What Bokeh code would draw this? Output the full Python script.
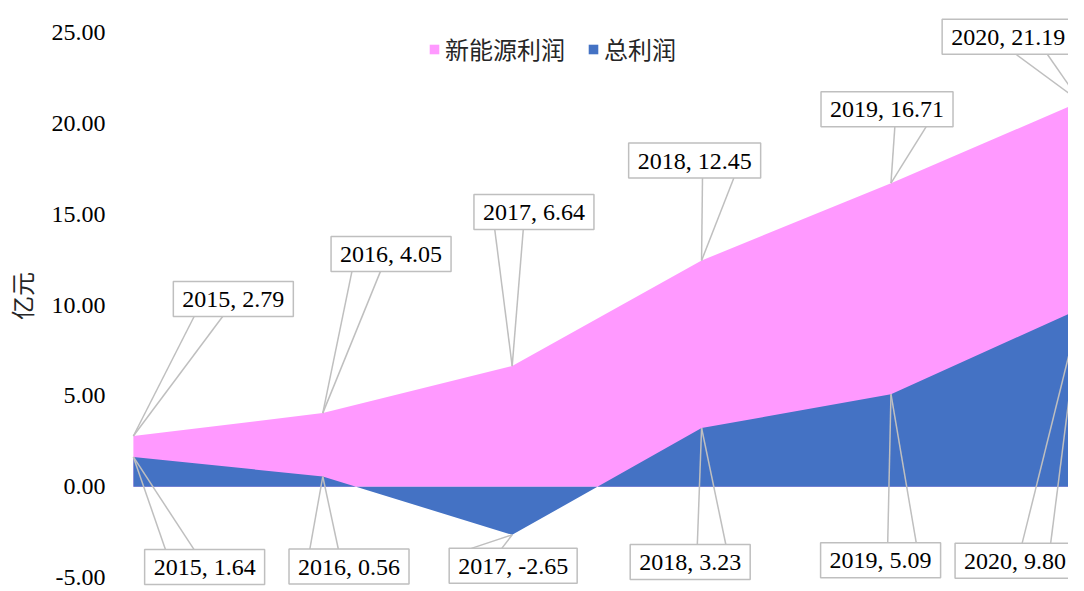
from bokeh.plotting import figure
from bokeh.models import Range1d, FixedTicker, NumeralTickFormatter, Legend, LegendItem, ColumnDataSource
from bokeh.embed import file_html
from bokeh.resources import INLINE
from bokeh.core.properties import value

# ---------------- data ----------------
years = [2015, 2016, 2017, 2018, 2019, 2020]
new_energy = [2.79, 4.05, 6.64, 12.45, 16.71, 21.19]
total = [1.64, 0.56, -2.65, 3.23, 5.09, 9.80]
y_ticks = [-5, 0, 5, 10, 15, 20, 25]
series_names = ["新能源利润", "总利润"]
y_title = "亿元"

# ---------------- layout / style ----------------
PINK = "#FF99FF"
BLUE = "#4472C4"
GRAY = "#BFBFBF"
SERIF = "Liberation Serif"
CJK = "Noto Sans CJK SC"

W, H = 1068, 591
LB = 112
FW, FH = W - LB, H
PX_X = 191.4          # pixels per year
PX_Y = 18.167         # pixels per unit
x0 = years[0] - 11 / PX_X
x1 = x0 + FW / PX_X
ytop = 486.2 / PX_Y
ybot = ytop - FH / PX_Y

# callout box centre offsets from the point, in screen px (+x right, +y down)
top_off = [(101, -137), (69, -159), (22, -154), (-7, -100), (-4, -74), (-73, -65)]
bot_off = [(72, 110), (26.5, 90), (1, 31), (-11.5, 134), (-10.5, 166), (-66, 252)]
LABEL_PX = 24
BOX_H = 35


def text_width(s, size):
    w = 0.0
    for ch in s:
        if ch.isdigit():
            w += 0.5
        elif ch in ",. ":
            w += 0.25
        elif ch == "-":
            w += 0.333
        else:
            w += 0.5
    return w * size


p = figure(width=W, height=H, output_backend="svg", toolbar_location=None,
           x_range=Range1d(x0, x1), y_range=Range1d(ybot, ytop),
           x_axis_location=None, min_border_left=LB, min_border_right=0,
           min_border_top=0, min_border_bottom=0)
p.outline_line_color = None
p.xgrid.visible = False
p.ygrid.visible = False
p.background_fill_color = "white"
p.border_fill_color = "white"

src = ColumnDataSource(dict(x=years, ne=new_energy, tot=total, zero=[0] * len(years)))
r_pink = p.varea(x="x", y1="zero", y2="ne", source=src, fill_color=PINK)
r_blue = p.varea(x="x", y1="zero", y2="tot", source=src, fill_color=BLUE)

# callouts
sx0, sy0, sx1, sy1 = [], [], [], []
cxs, cys, ws, texts = [], [], [], []
for series, offs in ((new_energy, top_off), (total, bot_off)):
    for yr, v, (dx, dy) in zip(years, series, offs):
        lab = f"{yr}, {v:.2f}"
        w = text_width(lab, LABEL_PX) + 18
        cx = yr + dx / PX_X
        cy = v - dy / PX_Y
        if dy < 0:
            edge = cy - (BOX_H / 2) / PX_Y
        else:
            edge = cy + (BOX_H / 2) / PX_Y
        left = cx - (w / 2) / PX_X
        fr = (0.17, 0.41) if dx > 0 else (0.56, 0.80)
        for f in fr:
            sx0.append(yr); sy0.append(v)
            sx1.append(left + f * w / PX_X); sy1.append(edge)
        cxs.append(cx); cys.append(cy); ws.append(w); texts.append(lab)

p.segment(x0=sx0, y0=sy0, x1=sx1, y1=sy1, line_color=GRAY, line_width=1.5)
p.rect(x=cxs, y=cys, width=ws, height=[BOX_H] * len(ws), width_units="screen",
       height_units="screen", fill_color="white", line_color=GRAY, line_width=1.5)
p.text(x=cxs, y=cys, text=texts, text_align="center", text_baseline="middle",
       text_font=value(SERIF), text_font_size=f"{LABEL_PX}px", text_color="#000000")

# y axis
ax = p.yaxis[0]
ax.ticker = FixedTicker(ticks=y_ticks)
ax.formatter = NumeralTickFormatter(format="0.00")
ax.axis_line_color = None
ax.major_tick_line_color = None
ax.minor_tick_line_color = None
ax.major_tick_out = 0
ax.major_tick_in = 0
ax.major_label_standoff = 17
ax.major_label_text_font = SERIF
ax.major_label_text_font_size = "24px"
ax.major_label_text_color = "#000000"
ax.axis_label = y_title
ax.axis_label_text_font = CJK
ax.axis_label_text_font_size = "24px"
ax.axis_label_text_font_style = "normal"
ax.axis_label_text_color = "#262626"
ax.axis_label_standoff = 10

legend = Legend(items=[LegendItem(label=series_names[0], renderers=[r_pink]),
                       LegendItem(label=series_names[1], renderers=[r_blue])],
                orientation="horizontal", location=(306, 525),
                glyph_width=12, glyph_height=12, label_standoff=5, spacing=22,
                padding=0, margin=0, border_line_color=None, background_fill_alpha=0,
                label_text_font=CJK, label_text_font_size="24px", label_text_color="#262626")
p.add_layout(legend)

open("out.html", "w").write(file_html(p, INLINE))
